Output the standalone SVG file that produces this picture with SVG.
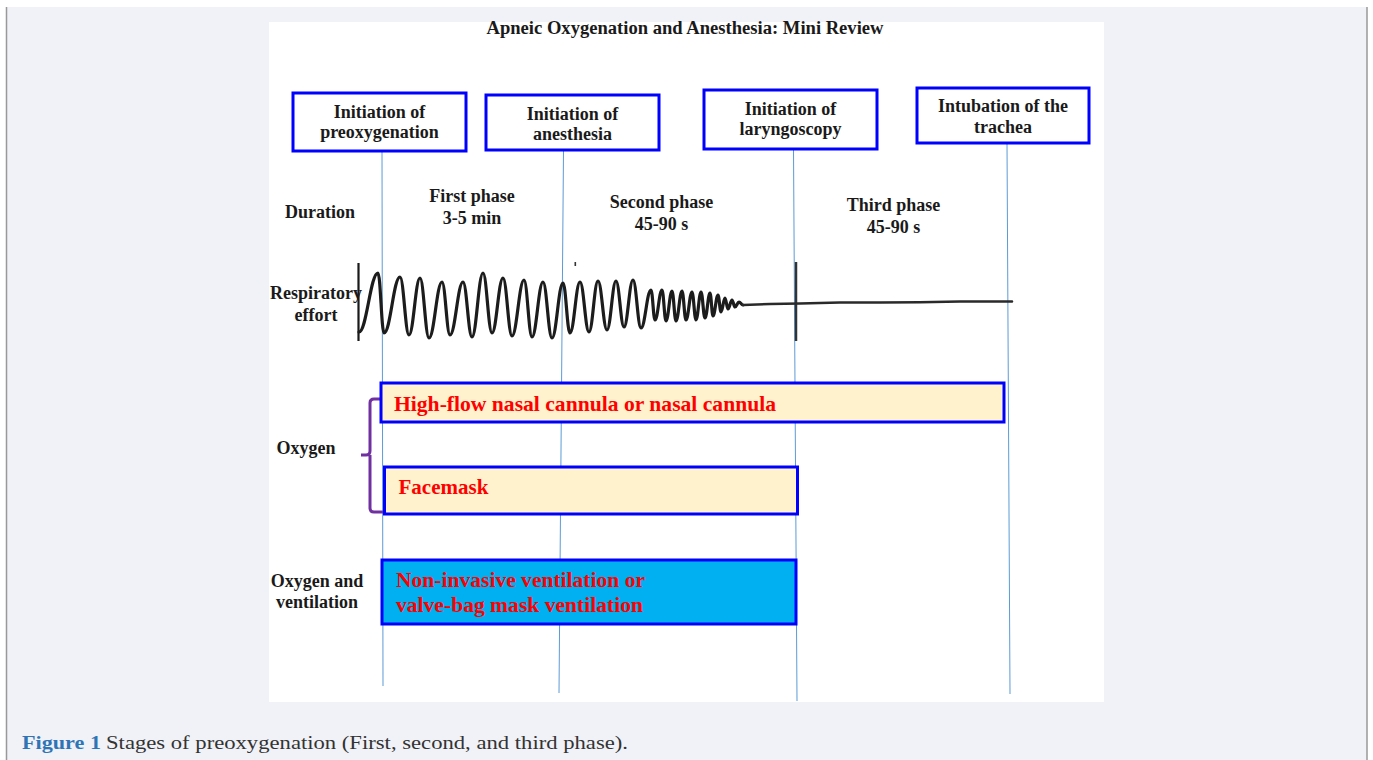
<svg xmlns="http://www.w3.org/2000/svg" width="1373" height="760" viewBox="0 0 1373 760">
<style>
.lbl{font-family:"Liberation Serif","Times New Roman",serif;font-weight:bold;font-size:18px;fill:#1a1a1a;text-anchor:middle}
.red{font-family:"Liberation Serif","Times New Roman",serif;font-weight:bold;font-size:21px;fill:#ff0000}
.box{fill:#ffffff;stroke:#0000ff;stroke-width:3}
.bar{fill:#fff2cc;stroke:#0000ff;stroke-width:3}
.vl{stroke:#5b9bd5;stroke-width:1;fill:none}
</style>
<rect x="0" y="0" width="1373" height="760" fill="#ffffff"/>
<rect x="7" y="7" width="1360" height="753" fill="#f1f2f7"/>
<line x1="6.5" y1="7" x2="6.5" y2="760" stroke="#999" stroke-width="1.5"/>
<line x1="1367" y1="7" x2="1367" y2="760" stroke="#999" stroke-width="1.5"/>
<rect x="269" y="22" width="835" height="680" fill="#ffffff"/>
<text x="685" y="34" class="lbl" font-size="17" textLength="397" lengthAdjust="spacingAndGlyphs">Apneic Oxygenation and Anesthesia: Mini Review</text>

<g id="connectors">
<line class="vl" x1="382" y1="151" x2="383" y2="686"/>
<line class="vl" x1="563.5" y1="150" x2="559" y2="693"/>
<line class="vl" x1="793.5" y1="149" x2="797" y2="701"/>
<line class="vl" x1="1007" y1="143" x2="1010" y2="694"/>
</g>

<g id="node-preox">
<rect class="box" x="293" y="93" width="173" height="58"/>
<text class="lbl" x="379.5" y="118">Initiation of</text>
<text class="lbl" x="379.5" y="138">preoxygenation</text>
</g>
<g id="node-anesthesia">
<rect class="box" x="486" y="95" width="173" height="55"/>
<text class="lbl" x="572.5" y="120">Initiation of</text>
<text class="lbl" x="572.5" y="140">anesthesia</text>
</g>
<g id="node-laryngoscopy">
<rect class="box" x="704" y="90" width="173" height="59"/>
<text class="lbl" x="790.5" y="115">Initiation of</text>
<text class="lbl" x="790.5" y="135">laryngoscopy</text>
</g>
<g id="node-intubation">
<rect class="box" x="917" y="88" width="172" height="55"/>
<text class="lbl" x="1003" y="112">Intubation of the</text>
<text class="lbl" x="1003" y="133">trachea</text>
</g>

<g id="duration">
<text class="lbl" x="320" y="218">Duration</text>
<text class="lbl" x="472" y="202">First phase</text>
<text class="lbl" x="472" y="224">3-5 min</text>
<text class="lbl" x="661.5" y="208">Second phase</text>
<text class="lbl" x="661.5" y="230">45-90 s</text>
<text class="lbl" x="893.5" y="211">Third phase</text>
<text class="lbl" x="893.5" y="233">45-90 s</text>
</g>

<g id="respiratory">
<text class="lbl" x="316" y="299">Respiratory</text>
<text class="lbl" x="316" y="321">effort</text>
<line x1="358.5" y1="263" x2="358.5" y2="341" stroke="#1a1a1a" stroke-width="2.2"/>
<line x1="796" y1="262" x2="796" y2="341" stroke="#333" stroke-width="2.5"/>
<rect x="574.5" y="262" width="1.6" height="4" fill="#333"/>
<path fill="none" stroke="#1c1c1c" stroke-width="3.2" stroke-linecap="round" stroke-linejoin="round" d="M359,332 C366.6,332 370.4,273 378,273 C380.4,273 381.6,333 384,333 C390.4,333 393.6,277 400,277 C403.6,277 405.4,335 409,335 C413.4,335 415.6,278 420,278 C423.6,278 425.4,338 429,338 C434.2,338 436.8,282 442,282 C445.2,282 446.8,335 450,335 C455.2,335 457.8,282 463,282 C466.6,282 468.4,337 472,337 C476.4,337 478.6,273 483,273 C486.6,273 488.4,333 492,333 C496.4,333 498.6,278 503,278 C506.6,278 508.4,336 512,336 C516.8,336 519.2,280 524,280 C527.2,280 528.8,337 532,337 C536.4,337 538.6,282 543,282 C546.6,282 548.4,338 552,338 C556.4,338 558.6,283 563,283 C565.8,283 567.2,333 570,333 C574,333 576,282 580,282 C583.6,282 585.4,332 589,332 C592.6,332 594.4,281 598,281 C601.6,281 603.4,330 607,330 C610.6,330 612.4,281 616,281 C619.2,281 620.8,327 624,327 C627.6,327 629.4,280 633,280 C636.2,280 637.8,328 641,328 C645,328 647,290 651,290 C652.6,290 653.4,320 655,320 C657.8,320 659.2,290 662,290 C663.6,290 664.4,321 666,321 C668.4,321 669.6,291 672,291 C673.6,291 674.4,321 676,321 C678.4,321 679.6,291 682,291 C683.6,291 684.4,320 686,320 C688.4,320 689.6,292 692,292 C693.6,292 694.4,320 696,320 C698,320 699,292 701,292 C702.6,292 703.4,318 705,318 C707,318 708,293 710,293 C711.2,293 711.8,316 713,316 C715,316 716,295 718,295 C719.2,295 719.8,312 721,312 C722.6,312 723.4,298 725,298 C726.2,298 726.8,309 728,309 C729.6,309 730.4,300 732,300 C733.2,300 733.8,307 735,307 C736.6,307 737.4,302 739,302 C740.6,302 741.4,305 743,305"/>
<polyline fill="none" stroke="#2a2a2a" stroke-width="2.6" stroke-linecap="round" points="743,305 770,304 800,303.5 840,302.5 880,302.5 920,302.3 960,301.5 1000,301.5 1012,301.5"/>
</g>

<g id="oxygen-label">
<text class="lbl" x="306" y="454">Oxygen</text>
<path d="M380,399 L374,399 Q370,399 370,403 L370,451 Q370,455 366,455 L361,455 M370,455 L370,508 Q370,512 374,512 L383,512" fill="none" stroke="#7030a0" stroke-width="3"/>
</g>

<g id="node-hfnc">
<rect class="bar" x="381" y="383" width="623" height="39"/>
<text class="red" x="394" y="411" textLength="382" lengthAdjust="spacingAndGlyphs">High-flow nasal cannula or nasal cannula</text>
</g>
<g id="node-facemask">
<rect class="bar" x="384.5" y="467" width="413" height="47"/>
<text class="red" x="398.5" y="494">Facemask</text>
</g>

<g id="oxy-vent-label">
<text class="lbl" x="317" y="587">Oxygen and</text>
<text class="lbl" x="317" y="608">ventilation</text>
</g>
<g id="node-niv">
<rect x="382" y="560" width="414" height="64" fill="#00b0f0" stroke="#0000ff" stroke-width="3"/>
<text class="red" x="396" y="587" textLength="249" lengthAdjust="spacingAndGlyphs">Non-invasive ventilation or</text>
<text class="red" x="396" y="612" textLength="247" lengthAdjust="spacingAndGlyphs">valve-bag mask ventilation</text>
</g>

<text x="22" y="749" font-family="Liberation Serif, serif" font-size="19" font-weight="bold" fill="#2f75b5" textLength="79" lengthAdjust="spacingAndGlyphs">Figure 1</text>
<text x="106" y="749" font-family="Liberation Serif, serif" font-size="19" fill="#333333" textLength="522" lengthAdjust="spacingAndGlyphs">Stages of preoxygenation (First, second, and third phase).</text>
</svg>
